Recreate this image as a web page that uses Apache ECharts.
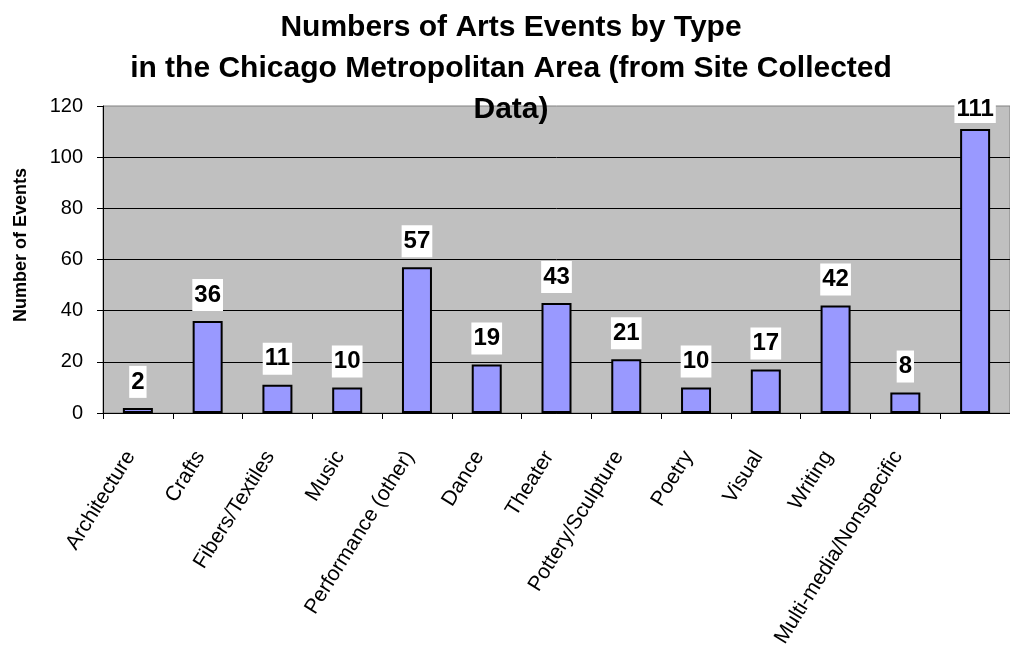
<!DOCTYPE html>
<html>
<head>
<meta charset="utf-8">
<script src="https://cdn.jsdelivr.net/npm/echarts@6/dist/echarts.min.js"></script>
<style>
html,body{margin:0;padding:0;background:#fff;}
#chart{width:1010px;height:659px;}
</style>
</head>
<body>
<div id="chart"></div>
<script>
const categories = ['Architecture','Crafts','Fibers/Textiles','Music','Performance (other)','Dance','Theater','Pottery/Sculpture','Poetry','Visual','Writing','Multi-media/Nonspecific',''];
const values = [2,36,11,10,57,19,43,21,10,17,42,8,111];
const yTicks = [0,20,40,60,80,100,120];
const titleText = 'Numbers of Arts Events by Type\nin the Chicago Metropolitan Area (from Site Collected\nData)';
const yAxisTitle = 'Number of Events';

const FONT = '"Liberation Sans", Arial, sans-serif';
const maxVal = Math.max(...values);
const seriesData = values.map(v => v === maxVal ? {value: v, label: {distance: 6, padding: [1, 2, 2, 2]}} : v);

const chart = echarts.init(document.getElementById('chart'));
chart.setOption({
  animation: false,
  backgroundColor: '#fff',
  title: {
    text: titleText,
    left: 506,
    top: 2,
    textAlign: 'center',
    textStyle: {fontFamily: FONT, fontWeight: 'bold', fontSize: 30, lineHeight: 41, color: '#000'}
  },
  graphic: [{
    type: 'text',
    x: 21, y: 245,
    rotation: Math.PI/2,
    style: {text: yAxisTitle, font: 'bold 18px ' + FONT, fill: '#000', align: 'center', verticalAlign: 'middle'}
  }],
  grid: {
    left: 103, top: 106, width: 916, height: 307,
    show: true, backgroundColor: '#C0C0C0', borderColor: '#808080', borderWidth: 1
  },
  xAxis: {
    type: 'category',
    data: categories,
    boundaryGap: true,
    axisLine: {lineStyle: {color: '#000', width: 1}},
    axisTick: {show: true, length: 6, alignWithLabel: false, lineStyle: {color: '#000'}},
    axisLabel: {rotate: 58, margin: 28, interval: 0, padding: [0, 14, 0, 0], fontFamily: FONT, fontSize: 21, color: '#000'}
  },
  yAxis: {
    type: 'value',
    min: yTicks[0], max: yTicks[yTicks.length-1], interval: 20,
    axisLine: {show: true, lineStyle: {color: '#000'}},
    axisTick: {show: true, inside: false, length: 6, lineStyle: {color: '#000'}},
    axisLabel: {margin: 20, fontFamily: FONT, fontSize: 20, color: '#000'},
    splitLine: {show: true, showMaxLine: false, lineStyle: {color: '#000', width: 1}}
  },
  series: [{
    type: 'bar',
    data: seriesData,
    barWidth: 30,
    itemStyle: {color: '#9999FF', borderColor: '#000', borderWidth: 2},
    label: {
      show: true, position: 'top', distance: 10,
      fontFamily: FONT, fontWeight: 'bold', fontSize: 24, color: '#000',
      backgroundColor: '#fff', padding: [4, 2, 4, 2], lineHeight: 24
    }
  }]
});
</script>
</body>
</html>
